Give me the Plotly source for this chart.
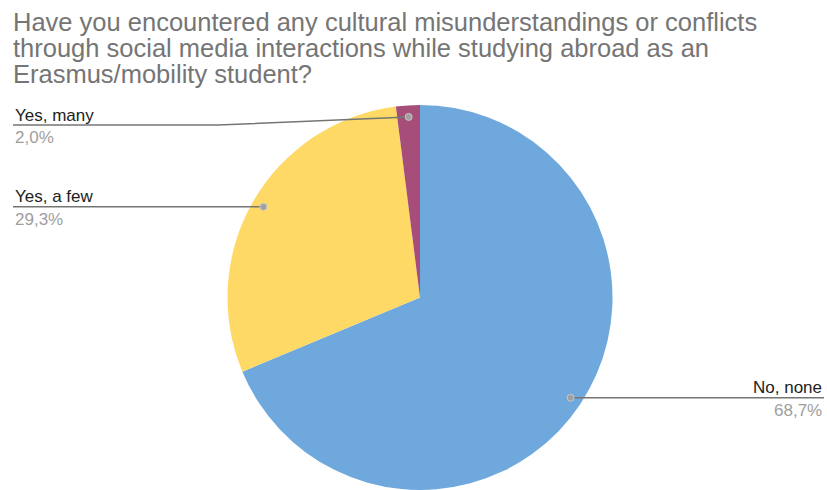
import math
import plotly.graph_objects as go

# Survey answers, clockwise from 12 o'clock
labels = ["No, none", "Yes, a few", "Yes, many"]
values = [68.7, 29.3, 2.0]
colors = ["#6fa8dc", "#ffd966", "#a64d79"]

title_lines = [
    "Have you encountered any cultural misunderstandings or conflicts",
    "through social media interactions while studying abroad as an",
    "Erasmus/mobility student?",
]

W, H = 827, 490
FONT = "Liberation Sans, Arial, sans-serif"

# pie placement in pixels
CX, CY, R = 420, 297.5, 192.5
DOT_R = 0.94 * R

# label placement: side of the chart, and optional fixed row for the leader line
label_side = ["right", "left", "left"]
label_row = [None, None, 125]
LEFT_X, RIGHT_X, BEND_X = 13, 824, 218

# title: one annotation per line, baselines spaced 26 px apart
TITLE_SIZE = 25.5
TITLE_X, TITLE_BASE0, TITLE_STEP = 11, 30, 26

fig = go.Figure()

fig.add_trace(go.Pie(
    labels=labels,
    values=values,
    sort=False,
    direction="clockwise",
    rotation=0,
    marker=dict(colors=colors, line=dict(width=0)),
    textinfo="none",
    hoverinfo="label+percent",
    showlegend=False,
    domain=dict(x=[(CX - R) / W, (CX + R) / W], y=[0, 2 * R / H]),
))

# invisible pixel-space axes for the leader lines and labels
fig.add_trace(go.Scatter(x=[0, W], y=[0, H], mode="markers",
                         marker=dict(opacity=0), hoverinfo="skip", showlegend=False))

total = sum(values)
start = 0.0
shapes = []
annotations = []
for name, v, side, row in zip(labels, values, label_side, label_row):
    frac = v / total
    mid = (start + frac / 2) * 2 * math.pi
    start += frac
    dx = CX + DOT_R * math.sin(mid)
    dy = CY - DOT_R * math.cos(mid)
    ly = dy if row is None else row
    end_x = RIGHT_X if side == "right" else LEFT_X

    if row is None:
        path = f"M {dx},{dy} L {end_x},{ly}"
    else:
        path = f"M {dx},{dy} L {BEND_X},{ly} L {end_x},{ly}"
    shapes.append(dict(type="path", path=path, xref="x", yref="y",
                       line=dict(color="#757575", width=1.5), layer="above"))
    shapes.append(dict(type="circle", xref="x", yref="y",
                       x0=dx - 3.5, x1=dx + 3.5, y0=dy - 3.5, y1=dy + 3.5,
                       fillcolor="#a0a0a0", line=dict(color="#c8c8c8", width=1),
                       layer="above"))

    anchor = "right" if side == "right" else "left"
    annotations.append(dict(
        x=end_x, y=ly + 1.5, xref="x", yref="y", text=name, showarrow=False,
        xanchor=anchor, yanchor="bottom", align=anchor,
        font=dict(family=FONT, size=17, color="#222222"),
    ))
    pct = f"{v:.1f}".replace(".", ",") + "%"
    annotations.append(dict(
        x=end_x, y=ly + 1, xref="x", yref="y", text=pct, showarrow=False,
        xanchor=anchor, yanchor="top", align=anchor,
        font=dict(family=FONT, size=17, color="#9e9e9e"),
    ))

for i, line in enumerate(title_lines):
    baseline = TITLE_BASE0 + i * TITLE_STEP
    annotations.append(dict(
        x=TITLE_X, y=baseline - 0.33 * TITLE_SIZE, xref="x", yref="y",
        text=line, showarrow=False, xanchor="left", yanchor="middle", align="left",
        font=dict(family=FONT, size=TITLE_SIZE, color="#757575"),
    ))

fig.update_layout(
    width=W, height=H,
    margin=dict(l=0, r=0, t=0, b=0),
    paper_bgcolor="white", plot_bgcolor="rgba(0,0,0,0)",
    xaxis=dict(range=[0, W], visible=False, fixedrange=True, domain=[0, 1]),
    yaxis=dict(range=[H, 0], visible=False, fixedrange=True, domain=[0, 1]),
    shapes=shapes,
    annotations=annotations,
)

fig.write_html("out.html")
